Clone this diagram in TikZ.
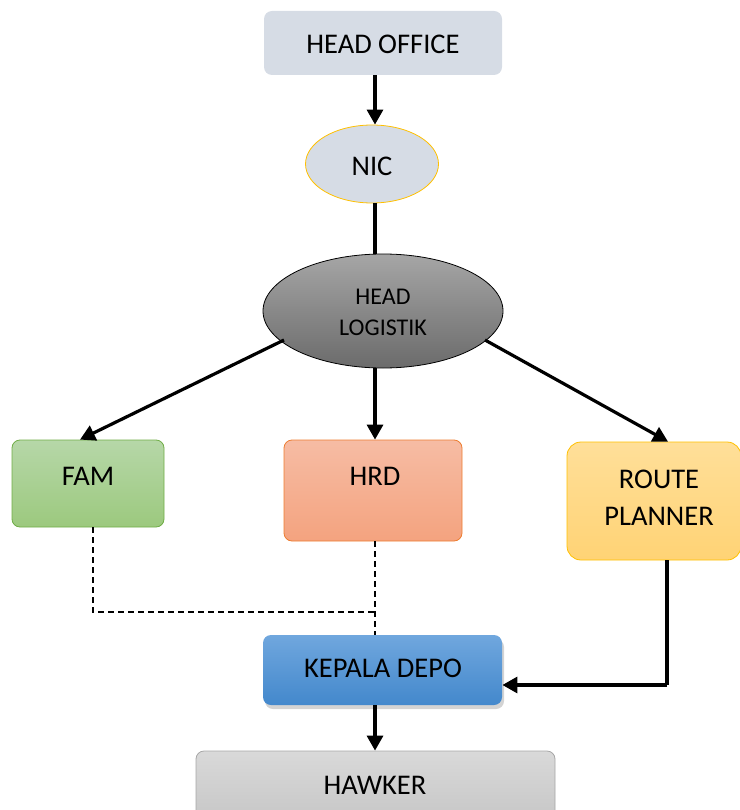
\documentclass[tikz,border=0pt]{standalone}
\usepackage{fontspec}
\setmainfont{Carlito}
\usetikzlibrary{shapes.geometric,arrows.meta,shadows}
\definecolor{officefill}{HTML}{D6DCE5}
\definecolor{nicborder}{HTML}{FFC000}
\definecolor{famtop}{HTML}{B6D7A8}
\definecolor{fambot}{HTML}{9CC97E}
\definecolor{famborder}{HTML}{70AD47}
\definecolor{hrdtop}{HTML}{F6BCA4}
\definecolor{hrdbot}{HTML}{F4A37F}
\definecolor{hrdborder}{HTML}{ED7D31}
\definecolor{rptop}{HTML}{FFDF99}
\definecolor{rpbot}{HTML}{FFD375}
\definecolor{kdtop}{HTML}{70A7DE}
\definecolor{kdbot}{HTML}{4388CC}
\definecolor{hawtop}{HTML}{D9D9D9}
\definecolor{hawbot}{HTML}{C4C4C4}
\definecolor{hawborder}{HTML}{A6A6A6}
\tikzset{
  boxbase/.style={rectangle, rounded corners=8pt, inner sep=0pt, line width=0.8pt},
  arr/.style={line width=3.2pt, -{Triangle[length=15pt,width=16pt]}},
  plainline/.style={line width=3.2pt},
  dashline/.style={line width=1.2pt, dash pattern=on 6pt off 4pt},
  txt/.style={font=\fontsize{28.5}{32}\selectfont, inner sep=0pt, align=center}
}
\begin{document}
\begin{tikzpicture}[x=1pt,y=-1pt]
\useasboundingbox (0,0) rectangle (739,810);
% boxes
\node[boxbase, fill=officefill, minimum width=238pt, minimum height=64pt] (office) at (383,43) {};
\node[txt] (officelbl) at (383,44) {HEAD OFFICE};
\node[ellipse, draw=nicborder, fill=officefill, line width=0.8pt, minimum width=133pt, minimum height=78pt, inner sep=0pt] (nic) at (372,164) {};
\node[txt] (niclbl) at (372,166) {NIC};
\node[ellipse, draw=black, line width=0.8pt, top color=black!35, bottom color=black!58, minimum width=240pt, minimum height=114pt, inner sep=0pt] (logistik) at (383,311) {};
\node[txt, font=\fontsize{24}{31}\selectfont] (logistiklbl) at (383,312) {HEAD\\LOGISTIK};
\node[boxbase, draw=famborder, top color=famtop, bottom color=fambot, minimum width=152pt, minimum height=87pt] (fam) at (88,483.5) {};
\node[txt] (famlbl) at (88,476) {FAM};
\node[boxbase, draw=hrdborder, top color=hrdtop, bottom color=hrdbot, minimum width=178pt, minimum height=101pt] (hrd) at (373,490.5) {};
\node[txt] (hrdlbl) at (375,476) {HRD};
\node[boxbase, draw=nicborder, top color=rptop, bottom color=rpbot, minimum width=174pt, minimum height=118pt, rounded corners=14pt] (rp) at (654,501) {};
\node[txt, font=\fontsize{28.5}{37}\selectfont] (rplbl) at (659,498) {ROUTE\\PLANNER};
\node[boxbase, top color=kdtop, bottom color=kdbot, minimum width=239pt, minimum height=70pt, drop shadow={shadow xshift=2pt, shadow yshift=-4pt, opacity=0.35}] (kd) at (382.5,670) {};
\node[txt] (kdlbl) at (383,668) {KEPALA DEPO};
\node[boxbase, draw=hawborder, top color=hawtop, bottom color=hawbot, minimum width=359pt, minimum height=80pt] (haw) at (375.5,791) {};
\node[txt] (hawlbl) at (375,785) {HAWKER};
% connectors
\draw[arr] (office.south -| 375,0) -- (nic.north -| 375,0);
\draw[plainline] (nic.south -| 375,0) -- (logistik.north -| 375,0);
\coordinate (lgl) at (284,340);
\coordinate (lgr) at (485,340);
\draw[arr] (lgl) -- (fam.north -| 80,0);
\draw[arr] (logistik.south -| 375,0) -- (hrd.north -| 375,0);
\draw[arr] (lgr) -- (rp.north -| 668,0);
\coordinate (dashcorner) at (93,612);
\draw[dashline] (fam.south -| 93,0) -- (dashcorner) -- (dashcorner -| 375,0);
\draw[dashline] (hrd.south -| 375,0) -- (kd.north -| 375,0);
\coordinate (rpcorner) at (667,685);
\draw[plainline] (rp.south -| 667,0) -- (rpcorner);
\draw[arr] (rpcorner) -- (kd.east |- rpcorner);
\draw[arr] (kd.south -| 375,0) -- (haw.north -| 375,0);
\end{tikzpicture}
\end{document}
